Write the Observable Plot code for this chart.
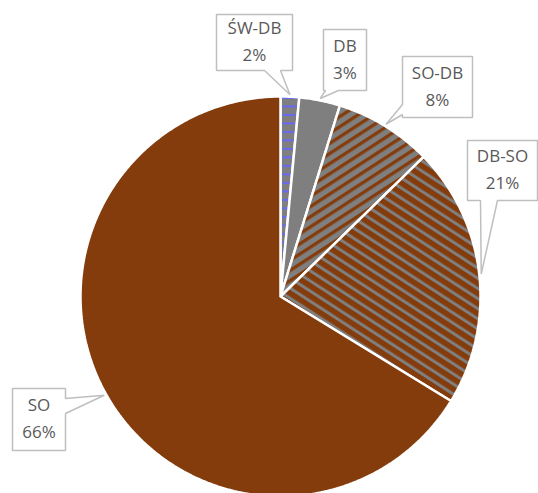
<!DOCTYPE html>
<html>
<head>
<meta charset="utf-8">
<script src="https://cdn.jsdelivr.net/npm/d3@7"></script>
<script src="https://cdn.jsdelivr.net/npm/@observablehq/plot@0.6"></script>
<style>
  body { margin: 0; background: #fff; }
  #chart svg { display: block; }
</style>
</head>
<body>
<div id="chart"></div>
<script>
// ---- data ----
const categories = ["ŚW-DB", "DB", "SO-DB", "DB-SO", "SO"];
const shares = [1.5, 3.3, 7.9, 21.05, 66.25];
const fills = ["url(#p-swdb)", "url(#p-db)", "url(#p-sodb)", "url(#p-dbso)", "url(#p-so)"];

// ---- layout ----
const W = 538, H = 493;
const cx = 280, cy = 296, R = 200;
// callout boxes (pixels) and where their pointer leaves the box
const boxes = [
  {x0: 216, y0: 14, x1: 292, y1: 70, side: "bottom", b0: 264, b1: 280},
  {x0: 323, y0: 29, x1: 366, y1: 90, side: "bottom", b0: 325, b1: 338},
  {x0: 402, y0: 56, x1: 472, y1: 117, side: "left", b0: 104, b1: 114},
  {x0: 467, y0: 140, x1: 537, y1: 200, side: "bottom", b0: 480, b1: 497},
  {x0: 12, y0: 388, x1: 65, y1: 450, side: "right", b0: 398, b1: 413}
];

const total = d3.sum(shares);
const pie = d3.pie().sort(null).value(d => d)(shares);
const pt = (a, r) => [cx + r * Math.sin(a), cy - r * Math.cos(a)];

// slice polygons
const slices = pie.map((p, i) => {
  const pts = [[cx, cy]];
  const n = Math.max(2, Math.ceil((p.endAngle - p.startAngle) / (Math.PI / 360)));
  for (let k = 0; k <= n; k++) {
    const a = p.startAngle + (p.endAngle - p.startAngle) * k / n;
    pts.push(pt(a, R));
  }
  pts.push([cx, cy]);
  return pts.map(([x, y]) => ({x, y, i}));
});

// callouts
const callouts = pie.map((p, i) => {
  const b = boxes[i];
  const tip = pt((p.startAngle + p.endAngle) / 2, R * 1.01);
  let poly;
  if (b.side === "bottom") {
    poly = [[b.x0,b.y0],[b.x1,b.y0],[b.x1,b.y1],[b.b1,b.y1],tip,[b.b0,b.y1],[b.x0,b.y1],[b.x0,b.y0]];
  } else if (b.side === "left") {
    poly = [[b.x0,b.y0],[b.x1,b.y0],[b.x1,b.y1],[b.x0,b.y1],[b.x0,b.b1],tip,[b.x0,b.b0],[b.x0,b.y0]];
  } else {
    poly = [[b.x0,b.y0],[b.x1,b.y0],[b.x1,b.b0],tip,[b.x1,b.b1],[b.x1,b.y1],[b.x0,b.y1],[b.x0,b.y0]];
  }
  return poly.map(([x, y]) => ({x, y, i}));
});

const labels = [];
categories.forEach((c, i) => {
  const b = boxes[i];
  const mx = (b.x0 + b.x1) / 2, my = (b.y0 + b.y1) / 2;
  labels.push({x: mx, y: my - 13.5, t: c});
  labels.push({x: mx, y: my + 13.5, t: Math.round(shares[i] / total * 100) + "%"});
});

const marks = [];
slices.forEach((s, i) => {
  marks.push(Plot.line(s, {x: "x", y: "y", fill: fills[i], stroke: "white", strokeWidth: 2.5, strokeLinejoin: "miter", curve: "linear"}));
});
callouts.forEach(c => {
  marks.push(Plot.line(c, {x: "x", y: "y", fill: "white", stroke: "#BFBFBF", strokeWidth: 1.5, strokeLinejoin: "miter", curve: "linear"}));
});
marks.push(Plot.text(labels, {x: "x", y: "y", text: "t", fill: "#595959", fontSize: 17, fontFamily: "Open Sans", textAnchor: "middle", lineAnchor: "middle"}));

const chart = Plot.plot({
  width: W, height: H,
  margin: 0,
  x: {domain: [0, W], range: [0, W], axis: null},
  y: {domain: [0, H], range: [0, H], axis: null},
  style: {background: "white", overflow: "visible"},
  marks
});

const defs = d3.select(chart).insert("defs", ":first-child");
const hp = defs.append("pattern").attr("id", "p-swdb").attr("patternUnits", "userSpaceOnUse").attr("width", 8).attr("height", 8.5);
hp.append("rect").attr("width", 8).attr("height", 8.5).attr("fill", "#7F7F7F");
hp.append("rect").attr("y", 3).attr("width", 8).attr("height", 1.8).attr("fill", "#6666FF");

const gp = defs.append("pattern").attr("id", "p-db").attr("patternUnits", "userSpaceOnUse").attr("width", 8).attr("height", 8);
gp.append("rect").attr("width", 8).attr("height", 8).attr("fill", "#7F7F7F");

const sp = defs.append("pattern").attr("id", "p-so").attr("patternUnits", "userSpaceOnUse").attr("width", 8).attr("height", 8);
sp.append("rect").attr("width", 8).attr("height", 8).attr("fill", "#843C0C");

const p1 = defs.append("pattern").attr("id", "p-sodb").attr("patternUnits", "userSpaceOnUse").attr("width", 8.5).attr("height", 8.5).attr("patternTransform", "rotate(57)");
p1.append("rect").attr("width", 8.5).attr("height", 8.5).attr("fill", "#7F7F7F");
p1.append("rect").attr("width", 3.3).attr("height", 8.5).attr("fill", "#843C0C");

const p2 = defs.append("pattern").attr("id", "p-dbso").attr("patternUnits", "userSpaceOnUse").attr("width", 8.5).attr("height", 8.5).attr("patternTransform", "rotate(-57)");
p2.append("rect").attr("width", 8.5).attr("height", 8.5).attr("fill", "#843C0C");
p2.append("rect").attr("width", 3).attr("height", 8.5).attr("fill", "#7F7F7F");

document.getElementById("chart").append(chart);
</script>
</body>
</html>
